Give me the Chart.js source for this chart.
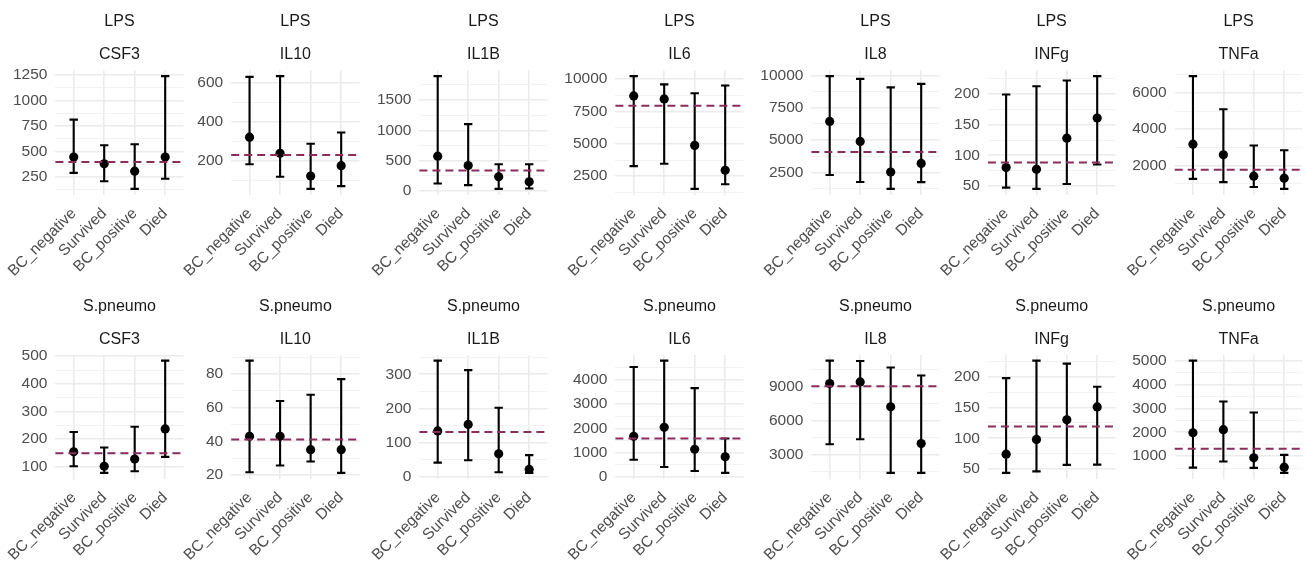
<!DOCTYPE html>
<html>
<head>
<meta charset="utf-8">
<script src="https://cdn.jsdelivr.net/npm/chart.js@4"></script>
<style>
  html, body { margin: 0; padding: 0; background: #fff; overflow: hidden; }
  #wrap { position: relative; width: 1307px; height: 562px; overflow: hidden; }
  .panel { position: absolute; }
</style>
</head>
<body>
<div id="wrap"></div>
<script>
// --- data ---
const groups = ['LPS', 'S.pneumo'];
const markers = ['CSF3', 'IL10', 'IL1B', 'IL6', 'IL8', 'INFg', 'TNFa'];
const categories = ['BC_negative', 'Survived', 'BC_positive', 'Died'];

// LPS row: point estimate, lower / upper error bar, dashed reference
const lpsMean = [
  [445, 378, 306, 445],
  [322, 239, 123, 176],
  [573, 419, 232, 149],
  [8700, 8470, 4880, 2960],
  [6450, 4900, 2530, 3200],
  [80, 77, 128, 161],
  [3170, 2580, 1400, 1290]
];
const lpsLow = [
  [290, 208, 133, 232],
  [183, 119, 57, 71],
  [121, 94, 33, 39],
  [3280, 3460, 1520, 1880],
  [2300, 1760, 1230, 1750],
  [47, 45, 53, 85],
  [1250, 1070, 800, 700]
];
const lpsHigh = [
  [812, 560, 570, 1238],
  [631, 635, 288, 346],
  [1896, 1103, 441, 441],
  [10230, 9590, 8910, 9510],
  [9950, 9740, 9080, 9350],
  [199.5, 213, 222.5, 229.6],
  [6930, 5100, 3100, 2830]
];
const lpsRef = [396, 231, 336, 7950, 4080, 88, 1760];
const lpsTicks = [
  [250, 500, 750, 1000, 1250],
  [200, 400, 600],
  [0, 500, 1000, 1500],
  [2500, 5000, 7500, 10000],
  [2500, 5000, 7500, 10000],
  [50, 100, 150, 200],
  [2000, 4000, 6000]
];

// S.pneumo row
const spnMean = [
  [154, 102, 128, 237],
  [43, 43, 35, 35],
  [134, 153, 67, 21],
  [1670, 2040, 1140, 830],
  [9290, 9440, 7240, 4000],
  [74, 98, 130, 151],
  [1980, 2110, 930, 540]
];
const spnLow = [
  [102, 78, 84, 136],
  [21.6, 25.6, 28, 21.2],
  [41, 48, 13, 11],
  [710, 410, 250, 170],
  [3940, 4380, 1410, 1410],
  [43.5, 46, 56.5, 57],
  [520, 775, 510, 300]
];
const spnHigh = [
  [226, 170, 245, 484],
  [88, 64, 67.7, 77],
  [340, 312, 202, 63],
  [4520, 4780, 3650, 1580],
  [11320, 11290, 10710, 10000],
  [198, 226.6, 221.7, 184],
  [5000, 3290, 2825, 1056]
];
const spnRef = [149, 41, 131, 1585, 9060, 119, 1310];
const spnTicks = [
  [100, 200, 300, 400, 500],
  [20, 40, 60, 80],
  [0, 100, 200, 300],
  [0, 1000, 2000, 3000, 4000],
  [3000, 6000, 9000],
  [50, 100, 150, 200],
  [1000, 2000, 3000, 4000, 5000]
];

// --- layout (ggplot facet grid) ---
const FONT = '"Liberation Sans", Arial, sans-serif';
const AXW = 70;
const PANEL_W = 131;
const panelLeft = [55.4, 231.2, 419.4, 615.4, 811.4, 987.9, 1174.7];
const rowTop = [0, 280];
const rowH = [280, 282];
const areaTop = [70.5, 75];
const areaBottom = [194.5, 198.5];
const titleY = [21.5, 26.7];
const subY = [55, 60];
const REF_COLOR = '#8B2C5E';
const CAP = 4.2;

const rows = [
  { mean: lpsMean, low: lpsLow, high: lpsHigh, ref: lpsRef, ticks: lpsTicks },
  { mean: spnMean, low: spnLow, high: spnHigh, ref: spnRef, ticks: spnTicks }
];

const facetPlugin = {
  id: 'facet',
  beforeDatasetsDraw(chart) {
    const f = chart.options.plugins.facet;
    const { ctx, scales: { x, y } } = chart;
    ctx.save();
    ctx.strokeStyle = '#000';
    ctx.lineWidth = 2.1;
    f.low.forEach((lo, i) => {
      const px = x.getPixelForValue(i + 1);
      const p1 = y.getPixelForValue(lo);
      const p2 = y.getPixelForValue(f.high[i]);
      ctx.beginPath();
      ctx.moveTo(px, p1); ctx.lineTo(px, p2);
      ctx.moveTo(px - CAP, p1); ctx.lineTo(px + CAP, p1);
      ctx.moveTo(px - CAP, p2); ctx.lineTo(px + CAP, p2);
      ctx.stroke();
    });
    ctx.restore();
  },
  afterDatasetsDraw(chart) {
    const f = chart.options.plugins.facet;
    const { ctx, chartArea, scales: { y } } = chart;
    const yr = y.getPixelForValue(f.ref);
    ctx.save();
    ctx.strokeStyle = REF_COLOR;
    ctx.lineWidth = 2;
    ctx.setLineDash([8, 5]);
    ctx.beginPath();
    ctx.moveTo(chartArea.left, yr);
    ctx.lineTo(chartArea.right, yr);
    ctx.stroke();
    ctx.restore();
  },
  afterDraw(chart) {
    const f = chart.options.plugins.facet;
    const { ctx, chartArea } = chart;
    const cx = (chartArea.left + chartArea.right) / 2;
    ctx.save();
    ctx.fillStyle = '#1A1A1A';
    ctx.font = '16px ' + FONT;
    ctx.textAlign = 'center';
    ctx.textBaseline = 'middle';
    ctx.fillText(f.group, cx, f.titleY);
    ctx.fillText(f.marker, cx, f.subY);
    ctx.restore();
  }
};

function withMinors(majors, min, max) {
  const step = majors[1] - majors[0];
  const out = majors.map(v => ({ value: v, major: true }));
  for (let i = 0; i < majors.length - 1; i++) out.push({ value: (majors[i] + majors[i + 1]) / 2, major: false });
  const below = majors[0] - step / 2;
  const above = majors[majors.length - 1] + step / 2;
  if (below >= min) out.push({ value: below, major: false });
  if (above <= max) out.push({ value: above, major: false });
  return out.sort((a, b) => a.value - b.value);
}

const wrap = document.getElementById('wrap');

rows.forEach((row, r) => {
  markers.forEach((marker, c) => {
    const mean = row.mean[c], low = row.low[c], high = row.high[c], ref = row.ref[c];
    const lo = Math.min(...low, ref), hi = Math.max(...high, ref);
    const pad = (hi - lo) * 0.05;
    const yMin = lo - pad, yMax = hi + pad;
    const majors = row.ticks[c];

    const canvasLeft = Math.floor(panelLeft[c] - AXW);
    const yWidth = panelLeft[c] - canvasLeft;
    const W = Math.ceil(yWidth + PANEL_W + 2);
    const H = rowH[r];

    const div = document.createElement('div');
    div.className = 'panel';
    div.style.left = canvasLeft + 'px';
    div.style.top = rowTop[r] + 'px';
    div.style.width = W + 'px';
    div.style.height = H + 'px';
    const canvas = document.createElement('canvas');
    canvas.width = W;
    canvas.height = H;
    div.appendChild(canvas);
    wrap.appendChild(div);

    new Chart(canvas, {
      type: 'scatter',
      data: {
        datasets: [{
          data: mean.map((v, i) => ({ x: i + 1, y: v })),
          pointRadius: 4.6,
          pointBackgroundColor: '#000',
          pointBorderWidth: 0,
          clip: false
        }]
      },
      options: {
        responsive: false,
        animation: false,
        events: [],
        layout: { padding: { top: areaTop[r], right: W - yWidth - PANEL_W, bottom: 0, left: 0 } },
        plugins: {
          legend: { display: false },
          tooltip: { enabled: false },
          facet: {
            low, high, ref,
            group: groups[r],
            marker,
            titleY: titleY[r],
            subY: subY[r]
          }
        },
        scales: {
          x: {
            type: 'linear',
            min: 0.4,
            max: 4.6,
            afterBuildTicks: (s) => { s.ticks = categories.map((_, i) => ({ value: i + 1 })); },
            afterFit: (s) => { s.height = H - areaBottom[r]; },
            border: { display: false },
            grid: { color: '#EBEBEB', lineWidth: 1.6, drawTicks: false },
            ticks: {
              autoSkip: false,
              minRotation: 45,
              maxRotation: 45,
              padding: 10,
              color: '#4D4D4D',
              font: { family: FONT, size: 15.5 },
              callback: (v) => categories[v - 1]
            }
          },
          y: {
            type: 'linear',
            min: yMin,
            max: yMax,
            afterBuildTicks: (s) => { s.ticks = withMinors(majors, yMin, yMax); },
            afterFit: (s) => { s.width = yWidth; },
            border: { display: false },
            grid: {
              drawTicks: false,
              color: (ctx) => (ctx.tick && ctx.tick.major ? '#EBEBEB' : '#F2F2F2'),
              lineWidth: (ctx) => (ctx.tick && ctx.tick.major ? 1.6 : 1)
            },
            ticks: {
              autoSkip: false,
              padding: 8,
              color: '#4D4D4D',
              font: { family: FONT, size: 15.5 },
              callback: (v) => (majors.includes(v) ? String(v) : '')
            }
          }
        }
      },
      plugins: [facetPlugin]
    });
  });
});
</script>
</body>
</html>
